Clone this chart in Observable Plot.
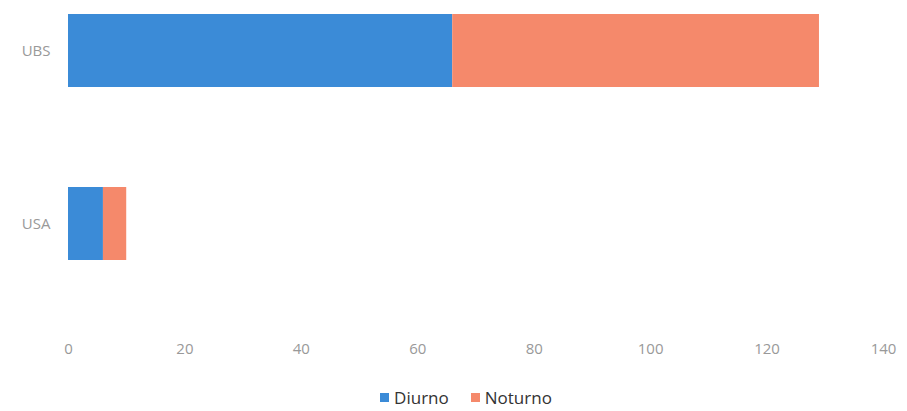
<!DOCTYPE html>
<html>
<head>
<meta charset="utf-8">
<script src="https://cdn.jsdelivr.net/npm/d3@7"></script>
<script src="https://cdn.jsdelivr.net/npm/@observablehq/plot@0.6"></script>
<style>
  html, body { margin: 0; padding: 0; background: #fff; }
  #chart svg { display: block; }
  #legend { display: flex; justify-content: center; gap: 22px; margin-top: 14px; padding-left: 25px;
            font-family: "Open Sans", "Liberation Sans", sans-serif; font-size: 17px; color: #333; }
  #legend span.item { display: flex; align-items: center; gap: 5px; }
  #legend span.sw { width: 9px; height: 9px; display: inline-block; }
</style>
</head>
<body>
<div id="chart"></div>
<div id="legend"></div>
<script>
const categories = ["UBS", "USA"];
const series = ["Diurno", "Noturno"];
const diurno = [66, 6];
const noturno = [63, 4];
const colors = ["#3b8bd7", "#f5896b"];
const xTicks = [0, 20, 40, 60, 80, 100, 120, 140];

const data = [];
categories.forEach((c, i) => {
  data.push({unidade: c, turno: series[0], valor: diurno[i]});
  data.push({unidade: c, turno: series[1], valor: noturno[i]});
});

const chart = Plot.plot({
  width: 907,
  height: 372,
  marginLeft: 68,
  marginRight: 24,
  marginTop: 10,
  marginBottom: 35,
  style: {fontFamily: "'Open Sans', 'Liberation Sans', sans-serif", fontSize: "15px", color: "#999", background: "#fff"},
  x: {domain: [0, 140], ticks: xTicks, label: null, tickSize: 0, tickPadding: 6},
  y: {domain: categories, range: [13, 260], paddingInner: 0.58, paddingOuter: 0, label: null, tickSize: 0, tickPadding: 18},
  color: {domain: series, range: colors},
  marks: [
    Plot.barX(data, Plot.stackX({y: "unidade", x: "valor", fill: "turno", order: series})),
    Plot.axisX({ticks: xTicks, tickSize: 0, tickPadding: 6, label: null, fill: "#999", fontSize: 15}),
    Plot.axisY({tickSize: 0, tickPadding: 18, label: null, fill: "#999", fontSize: 15})
  ]
});
document.getElementById("chart").appendChild(chart);

const legend = document.getElementById("legend");
series.forEach((s, i) => {
  const item = document.createElement("span");
  item.className = "item";
  const sw = document.createElement("span");
  sw.className = "sw";
  sw.style.background = colors[i];
  item.appendChild(sw);
  item.appendChild(document.createTextNode(s));
  legend.appendChild(item);
});
</script>
</body>
</html>
